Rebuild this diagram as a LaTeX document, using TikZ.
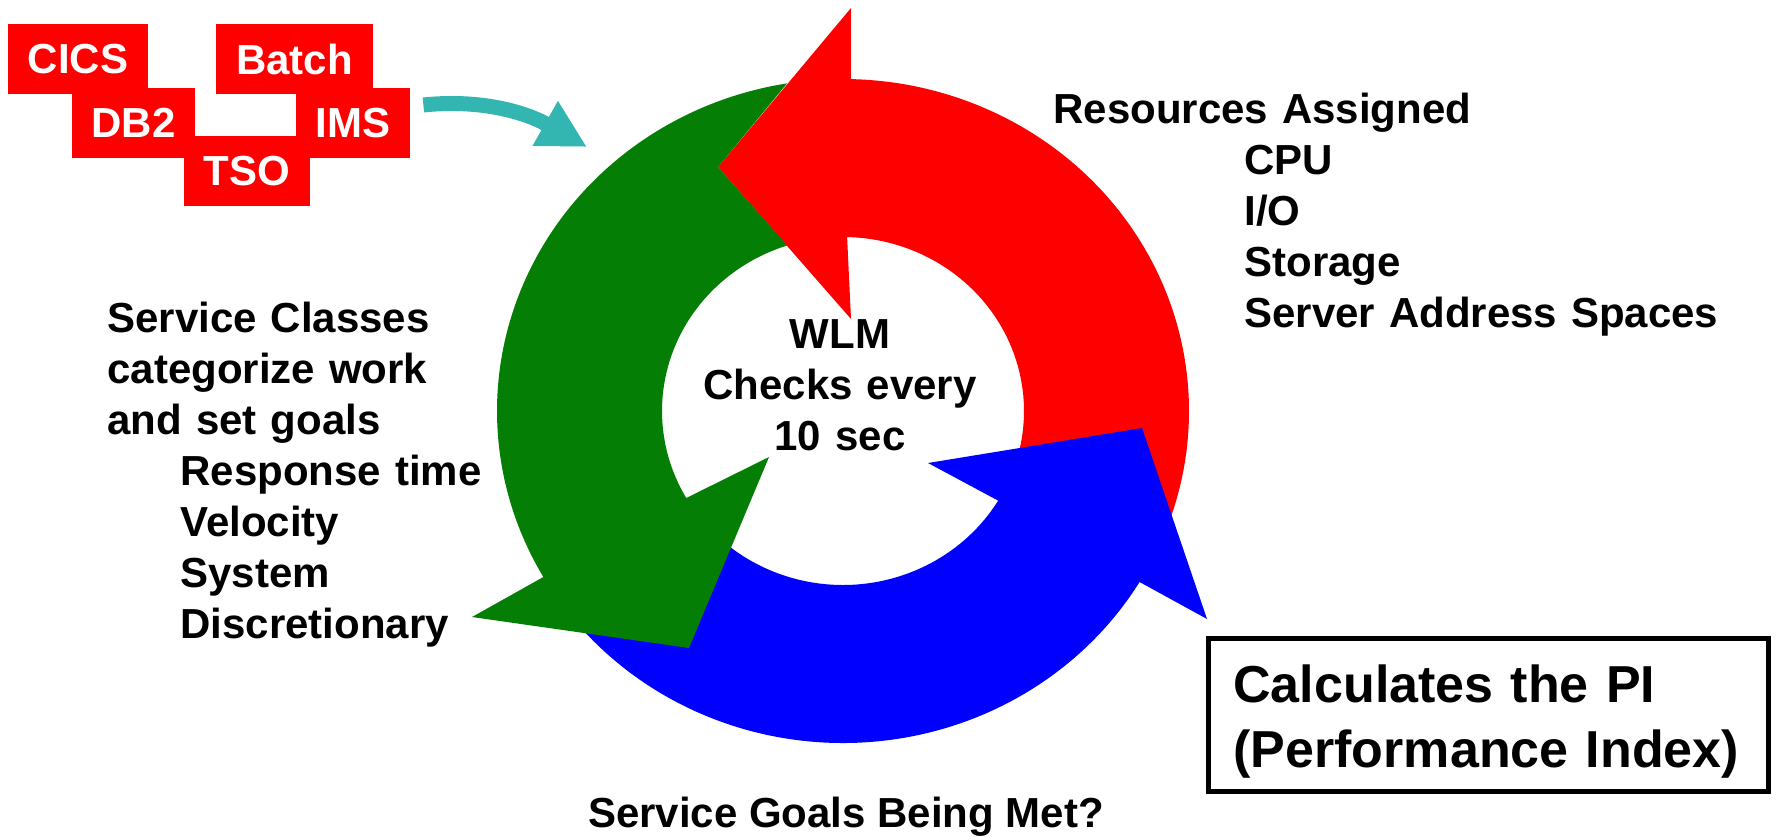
\documentclass[tikz,border=0pt]{standalone}
\usepackage{fontspec}
\setmainfont{Liberation Sans}
\usetikzlibrary{arrows.meta}
\definecolor{wlmred}{RGB}{255,0,0}
\definecolor{wlmgreen}{RGB}{4,126,4}
\definecolor{wlmblue}{RGB}{0,0,255}
\definecolor{feedteal}{RGB}{51,182,178}

\begin{document}
\begin{tikzpicture}[
	x=0.5pt, y=-0.5pt,
	workbox/.style = {
		fill=wlmred, text=white,
		inner sep=0pt,
		minimum height=35pt,
		font=\fontsize{21pt}{25.5pt}\selectfont\bfseries,
	},
	note/.style = {
		inner sep=0pt, align=left,
		font=\fontsize{21pt}{25.5pt}\selectfont\bfseries,
	},
	feed/.style = {
		draw=feedteal, line width=7.5pt,
		-{Triangle[length=24pt,width=24pt]},
	},
	outer/.style = {x radius=346, y radius=332},
	inner/.style = {x radius=181, y radius=174},
]
\useasboundingbox (0,0) rectangle (1779,836);

% work types
\node [workbox, minimum width=70pt]   (cics)  at (78,59)     {CICS};
\node [workbox, minimum width=78.5pt] (batch) at (294.5,59)  {Batch};
\node [workbox, minimum width=61.5pt] (db2)   at (133.5,123) {DB2};
\node [workbox, minimum width=57pt]   (ims)   at (353,123)   {IMS};
\node [workbox, minimum width=63pt]   (tso)   at (247,171)   {TSO};

% work goes into the cycle
\coordinate (ringin) at (587,147);
\draw [feed] ([shift={(13,-18)}]ims.east) .. controls +(57,-6) and +(-62,-35) .. (ringin);

% the WLM cycle
\coordinate (wlm) at (843,411);
\fill [wlmred] ([shift={(wlm)}]25:346 and 332) arc[start angle=25, end angle=-88.7, outer]
	-- (851,8) -- (718,167) -- (851,319)
	-- ([shift={(wlm)}]-88.7:181 and 174) arc[start angle=-88.7, end angle=25, inner] -- cycle;
\fill [wlmblue] ([shift={(wlm)}]140:346 and 332) arc[start angle=140, end angle=31, outer]
	-- (1207,619) -- (1142,428) -- (928,463)
	-- ([shift={(wlm)}]31:181 and 174) arc[start angle=31, end angle=140, inner] -- cycle;
\fill [wlmgreen] (718,167) -- ([shift={(wlm)}]260.7:346 and 332) arc[start angle=260.7, end angle=150, outer]
	-- (472,617) -- (689,648) -- (769,457)
	-- ([shift={(wlm)}]150:181 and 174) arc[start angle=150, end angle=252, inner] -- cycle;

\node [note, align=center, text width=160pt, anchor=base] (core) at (840,348)
	{WLM\\Checks every\\10 sec};

% labels round the cycle
\node [note, text width=360pt, anchor=base west] (res) at (1053,123) {
	Resources Assigned\\
	\hspace*{95.5pt}CPU\\
	\hspace*{95.5pt}I/O\\
	\hspace*{95.5pt}Storage\\
	\hspace*{95.5pt}Server Address Spaces
};
\node [note, text width=200pt, anchor=base west] (classes) at (107,332) {
	Service Classes\\
	categorize work\\
	and set goals\\
	\hspace*{36.5pt}Response time\\
	\hspace*{36.5pt}Velocity\\
	\hspace*{36.5pt}System\\
	\hspace*{36.5pt}Discretionary
};
\node [note, anchor=base] (met) at (846,827) {Service Goals Being Met?};

% PI box
\node [draw, line width=2.5pt, minimum width=280pt, minimum height=76.5pt,
	inner sep=0pt, outer sep=0pt] (pi) at (1488,714.5) {};
\node [note, font=\fontsize{26pt}{32.5pt}\selectfont\bfseries, text width=260pt,
	anchor=base west] (pitext) at ([xshift=12.5pt,yshift=-32pt]pi.north west)
	{Calculates the PI\\(Performance Index)};

\end{tikzpicture}
\end{document}
